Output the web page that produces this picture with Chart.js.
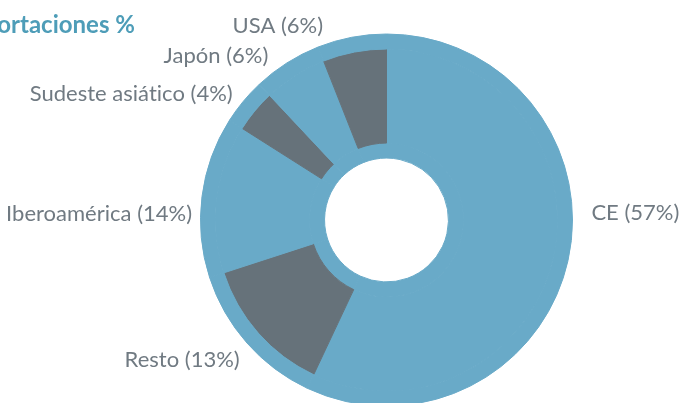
<!DOCTYPE html>
<html>
<head>
<meta charset="utf-8">
<script src="https://cdn.jsdelivr.net/npm/chart.js@4.4.0/dist/chart.umd.min.js"></script>
<style>
  html, body { margin: 0; padding: 0; background: #fff; overflow: hidden; }
  #wrap { position: relative; width: 679px; height: 410px; }
</style>
</head>
<body>
<div id="wrap"><canvas id="exportChart"></canvas></div>
<script>
// datos
const regiones = ['CE', 'Resto', 'Iberoamérica', 'Sudeste asiático', 'Japón', 'USA'];
const porcentajes = [57, 13, 14, 4, 6, 6];

// colores
const azul = '#69aac8';
const gris = '#66727a';
const coloresCentro = [azul, gris, azul, gris, azul, gris];

// donde van las etiquetas (angulo desde arriba, distancia al centro)
const angEtiqueta = [88, 226.3, 271.8, 309.4, 324.2, 341.9];
const distEtiqueta = [205, 203, 194.5, 199, 202, 204];

const etiquetas = {
  id: 'etiquetas',
  afterDraw(chart) {
    const arc = chart.getDatasetMeta(0).data[0];
    const cx = arc.x, cy = arc.y;
    const ctx = chart.ctx;
    ctx.save();
    ctx.letterSpacing = '0.01px'; // sin ligaduras (ti)
    ctx.font = '22px Lato';
    ctx.fillStyle = '#707a82';
    ctx.textBaseline = 'middle';
    regiones.forEach((r, i) => {
      const a = angEtiqueta[i] * Math.PI / 180;
      const x = cx + Math.sin(a) * distEtiqueta[i];
      const y = cy - Math.cos(a) * distEtiqueta[i];
      ctx.textAlign = Math.sin(a) > 0 ? 'left' : 'right';
      ctx.fillText(`${r} (${porcentajes[i]}%)`, x, y);
    });
    // titulo (cortado a la izquierda como en el original)
    ctx.font = 'bold 24px Lato';
    ctx.fillStyle = '#4e9db8';
    ctx.textAlign = 'right';
    ctx.fillText('Exportaciones %', 135, 25);
    ctx.restore();
  }
};

new Chart(document.getElementById('exportChart'), {
  type: 'doughnut',
  data: {
    labels: regiones,
    datasets: [
      { data: porcentajes, backgroundColor: azul, borderColor: azul, borderWidth: 1, weight: 15 },
      { data: porcentajes, backgroundColor: coloresCentro, borderColor: coloresCentro, borderWidth: 1, weight: 94 },
      { data: porcentajes, backgroundColor: azul, borderColor: azul, borderWidth: 1, weight: 15 }
    ]
  },
  options: {
    responsive: true,
    maintainAspectRatio: false,
    animation: false,
    cutout: '33.3%',
    layout: { padding: { top: 33.5, bottom: 3.5, left: 200, right: 106 } },
    plugins: {
      legend: { display: false },
      tooltip: { enabled: false }
    }
  },
  plugins: [etiquetas]
});
</script>
</body>
</html>
